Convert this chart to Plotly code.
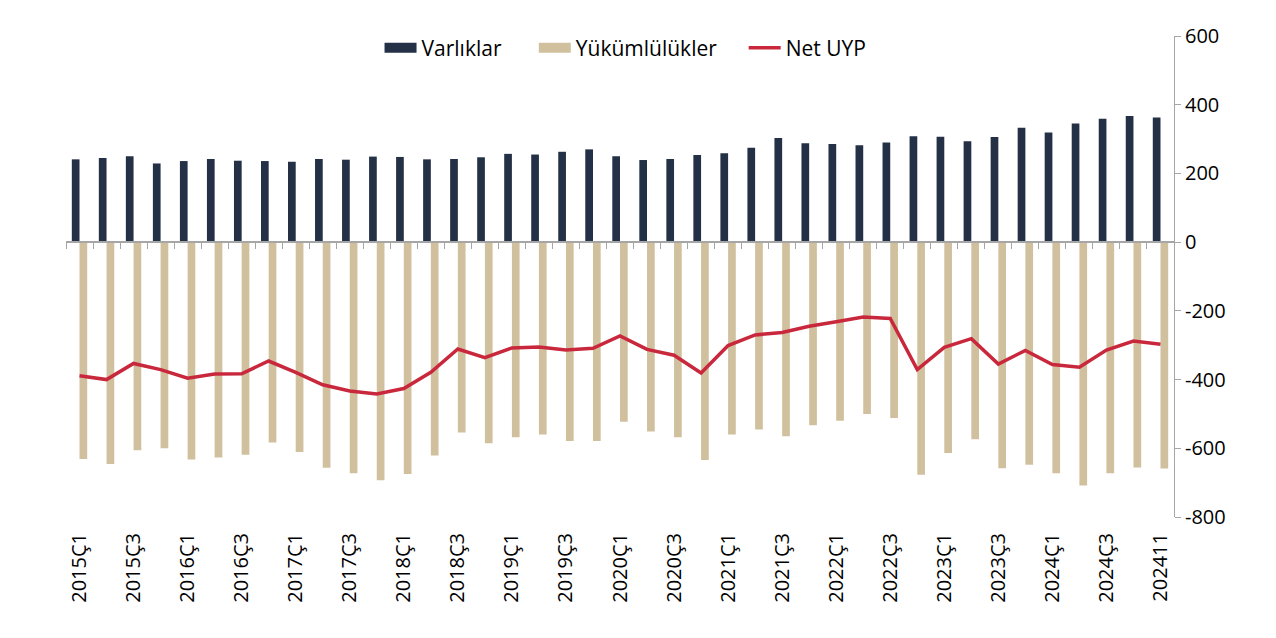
import plotly.graph_objects as go

categories = [f"{y}Ç{q}" for y in range(2015, 2025) for q in range(1, 5)] + ["202411"]

varliklar = [241, 245, 250, 229, 236, 242, 237, 236, 234, 242, 240, 249, 248, 241, 242, 247,
             257, 255, 263, 270, 250, 239, 242, 254, 259, 275, 303, 288, 286, 282, 290, 308,
             307, 294, 306, 333, 319, 345, 359, 367, 363]

yukumlulukler = [-631, -646, -606, -600, -633, -627, -619, -583, -611, -657, -673, -693, -675,
                 -621, -554, -585, -568, -560, -579, -579, -523, -551, -568, -634, -560, -545,
                 -565, -533, -520, -500, -512, -677, -614, -574, -658, -648, -673, -708, -673,
                 -656, -659]

net_uyp = [-389, -400, -353, -371, -396, -384, -383, -346, -379, -415, -433, -442, -426, -379,
           -311, -336, -308, -305, -314, -309, -273, -312, -329, -381, -301, -270, -263, -245,
           -232, -218, -222, -371, -306, -281, -355, -315, -356, -364, -314, -288, -297]

tick_labels = categories[::2]
y_tickvals = [600, 400, 200, 0, -200, -400, -600, -800]
y_ticktext = ["600", "400", "200", "0", "-200", "-400", "-600", "-800"]

NAVY = "#233045"
TAN = "#D1C09E"
RED = "#C9283C"
GRAY = "#A6A6A6"
FONT = "Open Sans"
FS = 20
NB = "\u00a0"

fig = go.Figure()
fig.add_trace(go.Bar(x=categories, y=varliklar, name="Varlıklar", marker_color=NAVY,
                     marker_line_width=0, showlegend=False, legendgroup="a"))
fig.add_trace(go.Bar(x=categories, y=yukumlulukler, name="Yükümlülükler", marker_color=TAN,
                     marker_line_width=0, showlegend=False, legendgroup="b"))
fig.add_trace(go.Scatter(x=categories, y=net_uyp, name="Net UYP", mode="lines",
                         line=dict(color=RED, width=3.5), xaxis="x2", showlegend=False,
                         legendgroup="c"))

# legend-only entries (no data points) to mimic the wide swatches
fig.add_trace(go.Scatter(x=[None], y=[None], mode="lines", name="Varlıklar" + NB * 5,
                         line=dict(color=NAVY, width=14), legendgroup="a", xaxis="x2"))
fig.add_trace(go.Scatter(x=[None], y=[None], mode="lines", name="Yükümlülükler" + NB * 4,
                         line=dict(color=TAN, width=14), legendgroup="b", xaxis="x2"))
fig.add_trace(go.Scatter(x=[None], y=[None], mode="lines", name="Net UYP",
                         line=dict(color=RED, width=3.5), legendgroup="c", xaxis="x2"))

fig.update_layout(
    width=1276, height=638,
    margin=dict(l=58, r=110, t=28, b=129),
    paper_bgcolor="white", plot_bgcolor="white",
    font=dict(family=FONT, size=FS, color="#000000"),
    barmode="group", bargap=0.43, bargroupgap=0,
    showlegend=True,
    legend=dict(orientation="h", x=0.505, xanchor="center", y=0.975, yanchor="middle",
                font=dict(family=FONT, size=21, color="#000000"), itemwidth=32,
                traceorder="normal", bgcolor="rgba(0,0,0,0)"),
    xaxis=dict(type="category", categoryorder="array", categoryarray=categories,
               range=[-0.5, len(categories) - 0.5],
               showline=False, showgrid=False, zeroline=False,
               tickmode="array", tickvals=tick_labels, ticktext=tick_labels,
               tickangle=-90, ticks="outside", ticklen=7, tickcolor="rgba(0,0,0,0)",
               tickfont=dict(family=FONT, size=FS, color="#000000")),
    xaxis2=dict(type="category", categoryorder="array", categoryarray=categories,
                overlaying="x", anchor="free", position=800 / 1400,
                range=[-0.5, len(categories) - 0.5],
                showline=True, linecolor=GRAY, linewidth=1.5,
                showgrid=False, zeroline=False,
                tickmode="array", tickvals=categories, showticklabels=False,
                tickson="boundaries", ticks="outside", ticklen=6, tickcolor=GRAY, tickwidth=1),
    yaxis=dict(side="right", range=[-800, 600],
               tickmode="array", tickvals=y_tickvals, ticktext=y_ticktext,
               showline=True, linecolor=GRAY, linewidth=1,
               showgrid=False, zeroline=False,
               ticks="outside", ticklen=6, tickcolor=GRAY,
               tickfont=dict(family=FONT, size=FS, color="#000000")),
)

fig.write_html("out.html")
